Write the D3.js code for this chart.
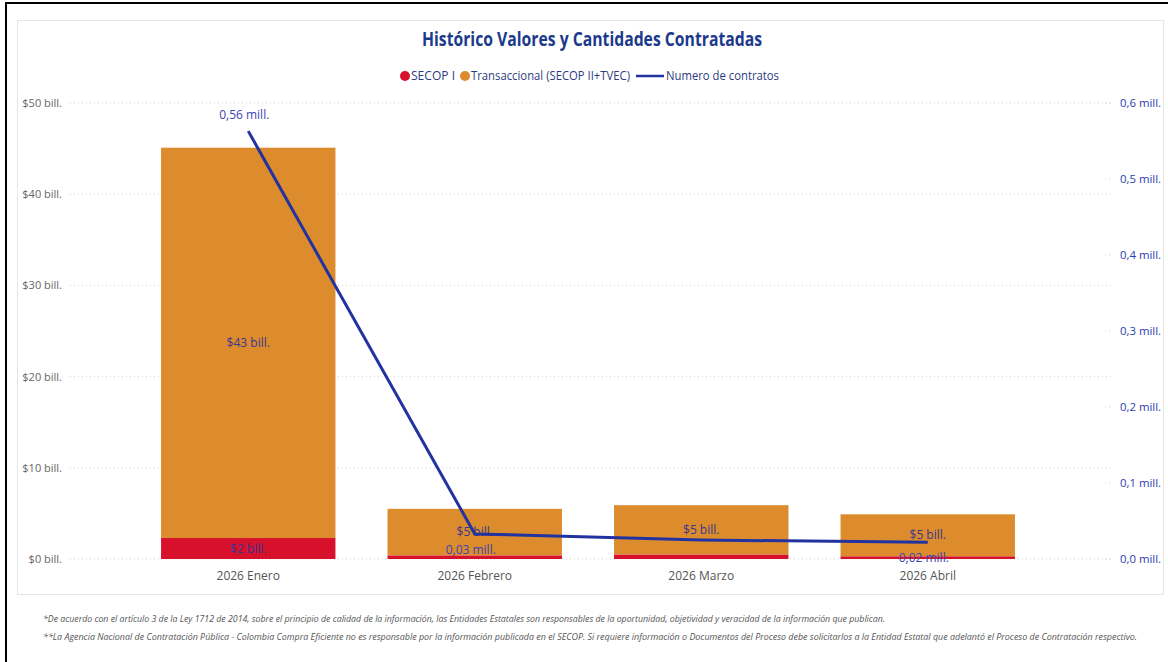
<!DOCTYPE html>
<html>
<head>
<meta charset="utf-8">
<script src="https://cdn.jsdelivr.net/npm/d3@7"></script>
<style>
  body { margin: 0; background: #fff; }
  svg { display: block; font-family: "Open Sans", "Noto Sans", sans-serif; }
</style>
</head>
<body>
<div id="chart"></div>
<script>
const categories = ['2026 Enero', '2026 Febrero', '2026 Marzo', '2026 Abril'];
const secopI = [2.3, 0.4, 0.5, 0.3];
const transaccional = [42.8, 5.1, 5.4, 4.6];
const contratos = [0.563, 0.033, 0.025, 0.022];
const leftTicks = [0, 10, 20, 30, 40, 50];
const rightTicks = [0, 0.1, 0.2, 0.3, 0.4, 0.5, 0.6];
const lineLabelShown = [true, true, false, true];
const notes = [
  '*De acuerdo con el artículo 3 de la Ley 1712 de 2014, sobre el principio de calidad de la información, las Entidades Estatales son responsables de la oportunidad, objetividad y veracidad de la información que publican.',
  '**La Agencia Nacional de Contratación Pública - Colombia Compra Eficiente no es responsable por la información publicada en el SECOP. Si requiere información o Documentos del Proceso debe solicitarlos a la Entidad Estatal que adelantó el Proceso de Contratación respectivo.'
];

(function(){
    const W = 1168, H = 662;
    const svg = d3.select('#chart').append('svg')
        .attr('width', W).attr('height', H);

    // outer frame bits
    svg.append('line').attr('x1', 6).attr('x2', W).attr('y1', 3).attr('y2', 3)
        .style('stroke', '#000').style('stroke-width', 2);
    svg.append('line').attr('x1', 6).attr('x2', 6).attr('y1', 2).attr('y2', H)
        .style('stroke', '#000').style('stroke-width', 2);
    svg.append('rect').attr('x', 17.5).attr('y', 20.5).attr('width', 1146).attr('height', 574)
        .style('fill', 'none').style('stroke', '#e6e6e6').style('stroke-width', 1);

    svg.append('text')
        .attr('x', 592).attr('y', 46)
        .attr('text-anchor', 'middle')
        .attr('textLength', 340).attr('lengthAdjust', 'spacingAndGlyphs')
        .style('font-size', '20px').style('font-weight', 700)
        .style('fill', '#1b3a8c')
        .text('Histórico Valores y Cantidades Contratadas');

    // legend
    const lg = svg.append('g').style('font-size', '12px').style('fill', '#2d3b7e');
    lg.append('circle').attr('cx', 405).attr('cy', 76).attr('r', 5).style('fill', '#d7112b');
    lg.append('text').attr('x', 411).attr('y', 80).attr('textLength', 44).attr('lengthAdjust', 'spacingAndGlyphs').text('SECOP I');
    lg.append('circle').attr('cx', 465).attr('cy', 76).attr('r', 5).style('fill', '#dc8c2c');
    lg.append('text').attr('x', 471).attr('y', 80).attr('textLength', 159).attr('lengthAdjust', 'spacingAndGlyphs').text('Transaccional (SECOP II+TVEC)');
    lg.append('line').attr('x1', 636).attr('x2', 664).attr('y1', 76).attr('y2', 76)
        .style('stroke', '#2233a0').style('stroke-width', 2.5);
    lg.append('text').attr('x', 666).attr('y', 80).attr('textLength', 113).attr('lengthAdjust', 'spacingAndGlyphs').text('Numero de contratos');

    const x = d3.scaleBand().domain(categories).range([135, 1041]).paddingInner(0.23).paddingOuter(0.115);
    const y = d3.scaleLinear().domain([0, 50]).range([559, 103]);
    const y2 = d3.scaleLinear().domain([0, 0.6]).range([559, 103]);

    // left grid + labels
    const gl = svg.append('g');
    gl.selectAll('line').data(leftTicks).enter().append('line')
        .attr('x1', 70).attr('x2', 1113)
        .attr('y1', d => y(d)).attr('y2', d => y(d))
        .style('stroke', '#cfcfcf').style('stroke-dasharray', '1,3');
    gl.selectAll('text').data(leftTicks).enter().append('text')
        .attr('x', 62).attr('y', d => y(d) + 4)
        .attr('text-anchor', 'end')
        .style('font-size', '11px').style('fill', '#666')
        .text(d => `$${d} bill.`);

    const gr = svg.append('g');
    gr.selectAll('line').data(rightTicks).enter().append('line')
        .attr('x1', 1105).attr('x2', 1113)
        .attr('y1', d => y2(d)).attr('y2', d => y2(d))
        .style('stroke', '#cfcfcf').style('stroke-dasharray', '1,3');
    gr.selectAll('text').data(rightTicks).enter().append('text')
        .attr('x', 1120).attr('y', d => y2(d) + 4)
        .attr('textLength', 41).attr('lengthAdjust', 'spacingAndGlyphs')
        .style('font-size', '11.5px').style('fill', '#2a3cb0')
        .text(d => d3.format('.1f')(d).replace('.', ',') + ' mill.');

    // stacked bars
    const rows = categories.map((c, i) => ({ cat: c, secop: secopI[i], trans: transaccional[i] }));
    const stack = d3.stack().keys(['secop', 'trans'])(rows);
    const colors = { secop: '#d7112b', trans: '#dc8c2c' };

    stack.forEach(layer => {
        svg.append('g').selectAll('rect').data(layer).enter().append('rect')
            .attr('x', d => x(d.data.cat))
            .attr('width', x.bandwidth())
            .attr('y', d => y(d[1]))
            .attr('height', d => y(d[0]) - y(d[1]))
            .style('fill', colors[layer.key]);
    });

    // bar labels
    stack.forEach(layer => {
        svg.append('g').selectAll('text').data(layer.filter(d => y(d[0]) - y(d[1]) > 14)).enter().append('text')
            .attr('x', d => x(d.data.cat) + x.bandwidth() / 2)
            .attr('y', d => (y(d[0]) + y(d[1])) / 2 + 4)
            .attr('text-anchor', 'middle')
            .style('font-size', '12px').style('fill', '#3b3690')
            .text(d => `$${Math.round(d[1] - d[0])} bill.`);
    });

    // category axis labels
    svg.append('g').selectAll('text').data(categories).enter().append('text')
        .attr('x', d => x(d) + x.bandwidth() / 2)
        .attr('y', 580)
        .attr('text-anchor', 'middle')
        .style('font-size', '12px').style('fill', '#555')
        .text(d => d);

    // line
    const pts = contratos.map((v, i) => ({ v, i, cx: x(categories[i]) + x.bandwidth() / 2 }));
    const line = d3.line().x(d => d.cx).y(d => y2(d.v));
    svg.append('path').datum(pts)
        .attr('d', line)
        .style('fill', 'none').style('stroke', '#2233a0').style('stroke-width', 3);

    svg.append('g').selectAll('text').data(pts.filter(d => lineLabelShown[d.i])).enter()
        .append('text')
        .attr('x', d => d.cx - 4)
        .attr('y', d => d.i === 0 ? y2(d.v) - 12 : y2(d.v) + 20)
        .attr('text-anchor', 'middle')
        .style('font-size', '12px').style('fill', '#3a45b5')
        .text(d => d3.format('.2f')(d.v).replace('.', ',') + ' mill.');

    // footnotes
    svg.append('g').selectAll('text').data(notes).enter().append('text')
        .attr('x', 43)
        .attr('y', (d, i) => 622 + i * 18)
        .attr('textLength', (d, i) => i === 0 ? 842 : 1094)
        .attr('lengthAdjust', 'spacingAndGlyphs')
        .style('font-size', '9px').style('font-style', 'italic').style('fill', '#555')
        .text(d => d);
}())
</script>
</body>
</html>
